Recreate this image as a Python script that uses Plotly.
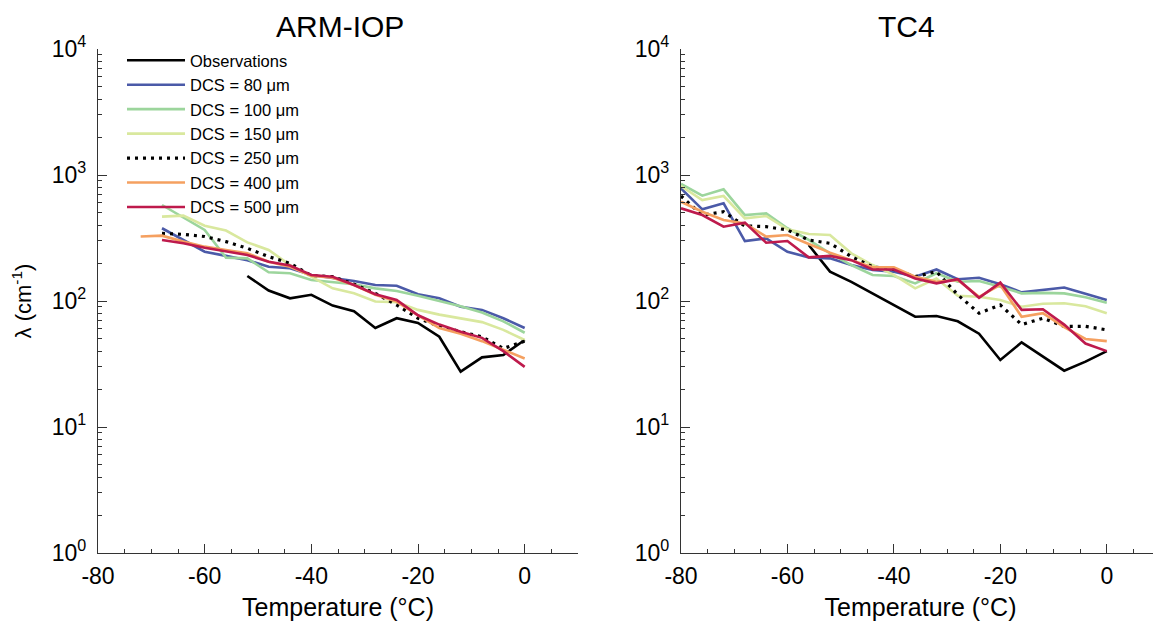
import plotly.graph_objects as go

# ---------------- data ----------------
# ARM-IOP panel
t_arm_obs = [-52, -48, -44, -40, -36, -32, -28, -24, -20, -16, -12, -8, -4, 0]
arm_obs = [158, 121, 105, 112, 92, 83, 61, 73, 67, 52, 27.5, 35.7, 37.3, 49]
t_arm = [-68, -64, -60, -56, -52, -48, -44, -40, -36, -32, -28, -24, -20, -16, -12, -8, -4, 0]
t_arm_400 = [-72] + t_arm
arm_80 = [378, 305, 246, 228, 211, 187, 182, 161, 153, 144, 134, 132, 113, 105, 90, 85, 73, 61]
arm_100 = [578, 458, 366, 221, 218, 169, 166, 147, 141, 136, 126, 120, 110, 100, 91, 81, 69, 56]
arm_150 = [467, 476, 396, 362, 292, 254, 193, 156, 126, 115, 99, 98, 85, 78, 73, 68, 59, 49]
arm_250 = [344, 338, 325, 296, 262, 225, 199, 159, 156, 136, 115, 93, 73, 63, 57, 52, 42, 48]
arm_400 = [325, 330, 296, 270, 254, 239, 205, 187, 159, 153, 134, 112, 99, 77, 61, 55, 48, 41, 35]
arm_500 = [305, 287, 265, 249, 232, 205, 191, 161, 156, 134, 113, 102, 77, 65, 57, 51, 40, 30]

# TC4 panel
t_tc4_obs = [-56, -52, -48, -44, -40, -36, -32, -28, -24, -20, -16, -12, -8, -4, 0]
tc4_obs = [278, 171, 142, 115, 93, 75, 76, 69, 55, 34, 47, 36, 28, 33, 40]
t_tc4 = [-80, -76, -72, -68, -64, -60, -56, -52, -48, -44, -40, -36, -32, -28, -24, -20, -16, -12, -8, -4, 0]
tc4_80 = [784, 534, 596, 299, 314, 246, 222, 218, 193, 176, 171, 156, 178, 149, 153, 136, 117, 122, 128, 114, 102]
tc4_100 = [849, 685, 770, 481, 496, 378, 305, 239, 193, 161, 158, 138, 166, 142, 144, 130, 115, 116, 115, 107, 97]
tc4_150 = [818, 633, 681, 453, 473, 371, 340, 334, 239, 193, 161, 126, 151, 110, 108, 102, 90, 95, 96, 91, 80]
tc4_250 = [681, 481, 511, 394, 389, 366, 305, 287, 225, 187, 178, 156, 171, 112, 80, 93, 65, 73, 63, 63, 59]
tc4_400 = [614, 511, 439, 413, 324, 334, 283, 242, 211, 185, 185, 156, 142, 147, 108, 134, 75, 80, 62, 50, 48]
tc4_500 = [544, 481, 389, 419, 290, 299, 222, 228, 211, 178, 178, 151, 138, 149, 106, 140, 85, 86, 65, 46, 40]

series_names = ["Observations", "DCS = 80 μm", "DCS = 100 μm", "DCS = 150 μm",
                "DCS = 250 μm", "DCS = 400 μm", "DCS = 500 μm"]
x_ticks = [-80, -60, -40, -20, 0]
x_ticktext = ["-80", "-60", "-40", "-20", "0"]
y_ticks = [1, 10, 100, 1000, 10000]
y_ticktext = ["10<sup>0</sup>", "10<sup>1</sup>", "10<sup>2</sup>", "10<sup>3</sup>", "10<sup>4</sup>"]
panel_titles = ["ARM-IOP", "TC4"]

# ---------------- styles ----------------
colors = ["#000000", "#4b5aa8", "#9cd59c", "#d9e89e", "#000000", "#f5a060", "#be1a4c"]
dashes = ["solid", "solid", "solid", "solid", "3px,5px", "solid", "solid"]
widths = [2.6, 2.6, 2.6, 2.6, 3.2, 2.6, 2.6]
FONT = "Liberation Sans, Arial, Helvetica, sans-serif"
W, H = 1161, 630

fig = go.Figure()

left = [(t_arm_obs, arm_obs), (t_arm, arm_80), (t_arm, arm_100), (t_arm, arm_150),
        (t_arm, arm_250), (t_arm_400, arm_400), (t_arm, arm_500)]
right = [(t_tc4_obs, tc4_obs), (t_tc4, tc4_80), (t_tc4, tc4_100), (t_tc4, tc4_150),
         (t_tc4, tc4_250), (t_tc4, tc4_400), (t_tc4, tc4_500)]

for i, (x, y) in enumerate(left):
    fig.add_trace(go.Scatter(x=x, y=y, mode="lines", name=series_names[i],
                             line=dict(color=colors[i], width=widths[i], dash=dashes[i]),
                             xaxis="x", yaxis="y", showlegend=True))
for i, (x, y) in enumerate(right):
    fig.add_trace(go.Scatter(x=x, y=y, mode="lines", name=series_names[i],
                             line=dict(color=colors[i], width=widths[i], dash=dashes[i]),
                             xaxis="x2", yaxis="y2", showlegend=False))

ydom = [(H - 545) / H, (H - 41) / H]

def xax(domain, anchor):
    return dict(domain=domain, anchor=anchor, range=[-80, 10], tickvals=x_ticks, ticktext=x_ticktext,
                ticks="inside", ticklen=9, tickwidth=1.2, tickcolor="#333", automargin=False,
                showline=True, linecolor="#333", linewidth=1.3, showgrid=False, zeroline=False,
                ticklabelstandoff=2,
                minor=dict(dtick=5, tick0=0, ticks="inside", ticklen=4, tickcolor="#333", showgrid=False),
                tickfont=dict(family=FONT, size=23, color="#000"),
                title=dict(text="Temperature (°C)", font=dict(family=FONT, size=25, color="#000"), standoff=10))

def yax(domain_anchor, title=None):
    d = dict(domain=ydom, anchor=domain_anchor, type="log", range=[0, 4],
             tickvals=y_ticks, ticktext=y_ticktext, automargin=False,
             ticks="inside", ticklen=9, tickwidth=1.2, tickcolor="#333",
             showline=True, linecolor="#333", linewidth=1.3, showgrid=False, zeroline=False,
             ticklabelstandoff=6,
             minor=dict(tickvals=[m * 10 ** k for k in range(4) for m in range(2, 10)],
                        ticks="inside", ticklen=4, tickcolor="#333", showgrid=False),
             tickfont=dict(family=FONT, size=23, color="#000"))
    if title:
        d["title"] = dict(text=title, font=dict(family=FONT, size=22, color="#000"), standoff=14)
    return d

fig.update_layout(
    width=W, height=H,
    paper_bgcolor="white", plot_bgcolor="white",
    margin=dict(l=0, r=0, t=0, b=0, autoexpand=False),
    xaxis=xax([90 / W, 570 / W], "y"),
    yaxis=yax("x", "λ (cm<sup>-1</sup>)"),
    xaxis2=xax([673 / W, 1152 / W], "y2"),
    yaxis2=yax("x2"),
    showlegend=True,
    legend=dict(x=114 / W, y=1 - 35 / H, xanchor="left", yanchor="top",
                bgcolor="rgba(0,0,0,0)", font=dict(family=FONT, size=16.5, color="#000"),
                itemwidth=58, tracegroupgap=0),
    annotations=[
        dict(text=panel_titles[0], x=332 / W, y=1.0, xref="paper", yref="paper",
             xanchor="center", yanchor="top",
             showarrow=False, font=dict(family=FONT, size=30, color="#000")),
        dict(text=panel_titles[1], x=898 / W, y=1.0, xref="paper", yref="paper",
             xanchor="center", yanchor="top",
             showarrow=False, font=dict(family=FONT, size=30, color="#000")),
    ],
)

fig.write_html("out.html")
